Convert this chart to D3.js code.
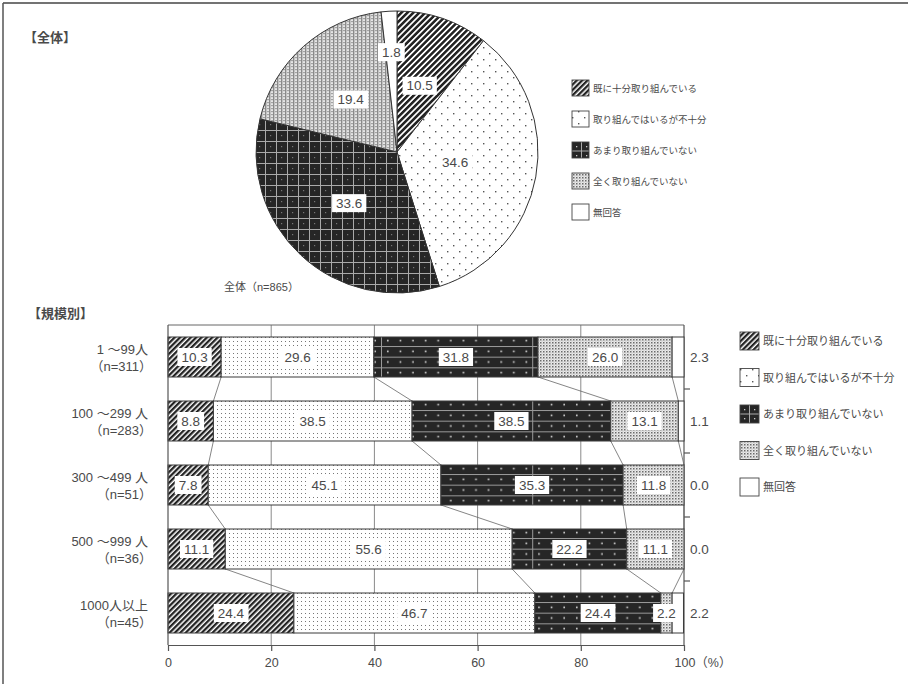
<!DOCTYPE html>
<html><head><meta charset="utf-8">
<script src="https://cdn.jsdelivr.net/npm/d3@7"></script>
<style>
body{margin:0;background:#fff;}
svg{display:block;}
text{font-family:"Liberation Sans","Noto Sans CJK JP",sans-serif;fill:#4a4a4a;}
</style></head>
<body>
<script>
// ---------- data ----------
const categories = ["既に十分取り組んでいる","取り組んではいるが不十分","あまり取り組んでいない","全く取り組んでいない","無回答"];
const overallValues = [10.5, 34.6, 33.6, 19.4, 1.8];
const overallLabel = "全体（n=865）";
const rowLabels = ["1 ～99人","100 ～299 人","300 ～499 人","500 ～999 人","1000人以上"];
const rowN = ["（n=311）","（n=283）","（n=51）","（n=36）","（n=45）"];
const sufficient   = [10.3, 8.8, 7.8, 11.1, 24.4];
const insufficient = [29.6, 38.5, 45.1, 55.6, 46.7];
const little       = [31.8, 38.5, 35.3, 22.2, 24.4];
const none         = [26.0, 13.1, 11.8, 11.1, 2.2];
const noAnswer     = [2.3, 1.1, 0.0, 0.0, 2.2];
const xTicks = [0, 20, 40, 60, 80, 100];

const W = 908, H = 684;
const svg = d3.select("body").append("svg").attr("width", W).attr("height", H);
const defs = svg.append("defs");

// ---------- patterns ----------
function hatch(id, w, sw){
  const p = defs.append("pattern").attr("id", id).attr("patternUnits","userSpaceOnUse")
    .attr("width", w).attr("height", w).attr("patternTransform","rotate(45)");
  p.append("rect").attr("width", w).attr("height", w).attr("fill","#fff");
  p.append("rect").attr("width", sw).attr("height", w).attr("fill","#222");
}
hatch("p0", 3.8, 2.3);
hatch("pp0", 4.2, 2.5);

function dots(id, w, h, pts, r, col){
  const p = defs.append("pattern").attr("id", id).attr("patternUnits","userSpaceOnUse")
    .attr("width", w).attr("height", h);
  p.append("rect").attr("width", w).attr("height", h).attr("fill","#fff");
  pts.forEach(([x,y]) => p.append("rect").attr("x",x).attr("y",y).attr("width",r).attr("height",r).attr("fill",col));
}
dots("p1", 4, 4, [[1,1]], 1, "#777");
dots("pp1", 12, 12, [[2,3],[8,9]], 1.4, "#555");

// dark pattern for bars
(function(){
  const ph = 64/6, pw = 151.2, step = 12.6;
  const p = defs.append("pattern").attr("id","p2").attr("patternUnits","userSpaceOnUse")
    .attr("width", pw).attr("height", ph).attr("x", 381).attr("y", 346);
  p.append("rect").attr("width", pw).attr("height", ph).attr("fill","#262626");
  p.append("rect").attr("x",0).attr("y",0).attr("width",pw).attr("height",1).attr("fill","#9a9a9a");
  p.append("rect").attr("x",0).attr("y",0).attr("width",1).attr("height",ph).attr("fill","#9a9a9a");
  for(let i=0;i<12;i++){
    p.append("rect").attr("x", i*step+6).attr("y", ph/2-0.8).attr("width",1.6).attr("height",1.6).attr("fill","#ddd");
  }
})();
// dark pattern for pie: grid
(function(){
  const c = 11;
  const p = defs.append("pattern").attr("id","pp2").attr("patternUnits","userSpaceOnUse")
    .attr("width", c).attr("height", c);
  p.append("rect").attr("width", c).attr("height", c).attr("fill","#262626");
  p.append("rect").attr("width", c).attr("height", 1).attr("fill","#aaa");
  p.append("rect").attr("width", 1).attr("height", c).attr("fill","#aaa");
  p.append("rect").attr("x",5).attr("y",5).attr("width",1.2).attr("height",1.2).attr("fill","#777");
})();
// legend swatch for dark: cross
(function(){
  const p = defs.append("pattern").attr("id","ps2").attr("patternUnits","objectBoundingBox")
    .attr("width",1).attr("height",1);
  p.append("rect").attr("width",19).attr("height",18).attr("fill","#262626");
  p.append("rect").attr("x",0).attr("y",8.5).attr("width",19).attr("height",1).attr("fill","#aaa");
  p.append("rect").attr("x",9).attr("y",0).attr("width",1).attr("height",18).attr("fill","#aaa");
  [[4,4],[14,4],[4,13],[14,13]].forEach(([a,b])=>p.append("rect").attr("x",a).attr("y",b).attr("width",1.3).attr("height",1.3).attr("fill","#ccc"));
})();
// light grid pattern
(function(){
  const p = defs.append("pattern").attr("id","p3").attr("patternUnits","userSpaceOnUse").attr("width",3).attr("height",3);
  p.append("rect").attr("width",3).attr("height",3).attr("fill","#eaeaea");
  p.append("rect").attr("width",1.5).attr("height",1.5).attr("fill","#6a6a6a");
  p.append("rect").attr("x",1.5).attr("y",1.5).attr("width",1).attr("height",1).attr("fill","#aaa");
  const q = defs.append("pattern").attr("id","pp3").attr("patternUnits","userSpaceOnUse").attr("width",4).attr("height",3);
  q.append("rect").attr("width",4).attr("height",3).attr("fill","#e6e6e6");
  q.append("rect").attr("width",1.4).attr("height",3).attr("fill","#8a8a8a");
  q.append("rect").attr("x",2.4).attr("y",1).attr("width",1.2).attr("height",1.2).attr("fill","#777");
})();
const barFills = ["url(#p0)","url(#p1)","url(#p2)","url(#p3)","#fff"];
const pieFills = ["url(#pp0)","url(#pp1)","url(#pp2)","url(#pp3)","#fff"];
const swatchFills = ["url(#p0)","url(#pp1)","url(#ps2)","url(#p3)","#fff"];

// ---------- frame ----------
svg.append("line").attr("x1",3).attr("x2",W).attr("y1",3).attr("y2",3).attr("stroke","#444").attr("stroke-width",1.5);
svg.append("line").attr("x1",3).attr("x2",3).attr("y1",3).attr("y2",H).attr("stroke","#555").attr("stroke-width",1.5);

// ---------- titles ----------
svg.append("text").attr("x",24).attr("y",42).attr("font-size",13).attr("font-weight","bold").attr("fill","#333").text("【全体】");
svg.append("text").attr("x",28).attr("y",318).attr("font-size",13).attr("font-weight","bold").attr("fill","#333").text("【規模別】");

function boxLabel(g, x, y, txt, fs){
  const gg = g.append("g");
  const t = gg.append("text").attr("x",x).attr("y",y).attr("text-anchor","middle")
    .attr("dominant-baseline","central").attr("font-size",fs).attr("fill","#555").text(txt);
  const b = t.node().getBBox();
  gg.insert("rect","text").attr("x",b.x-4).attr("y",b.y-1.5).attr("width",b.width+8).attr("height",b.height+3).attr("fill","#fff");
}

// ---------- pie ----------
const cx = 397, cy = 152, R = 141;
const pie = d3.pie().sort(null).value(d=>d)(overallValues);
const arc = d3.arc().innerRadius(0).outerRadius(R);
const pg = svg.append("g").attr("transform",`translate(${cx},${cy})`);
pg.selectAll("path").data(pie).join("path").attr("d",arc)
  .attr("fill",(d,i)=>pieFills[i]).attr("stroke","#333").attr("stroke-width",1);
pie.forEach((d,i)=>{
  const lr = d.data < 5 ? 100 : (i===1 ? 59 : 70);
  const la = d3.arc().innerRadius(lr).outerRadius(lr);
  const [x,y] = la.centroid(d);
  boxLabel(pg, x, y, d3.format(".1f")(d.data), 13.5);
});
svg.append("text").attr("x",224).attr("y",291).attr("font-size",11).attr("fill","#555").text(overallLabel);

// pie legend
const pl = svg.append("g");
categories.forEach((c,i)=>{
  const y = 88 + 31*i;
  pl.append("rect").attr("x",572).attr("y",y-8).attr("width",17).attr("height",16)
    .attr("fill",swatchFills[i]).attr("stroke","#444").attr("stroke-width",0.9);
  pl.append("text").attr("x",593).attr("y",y).attr("dominant-baseline","central").attr("font-size",9.5).attr("fill","#555").text(c);
});

// ---------- bar chart ----------
const x0 = 168, x1 = 684, yTop = 325, yBot = 645;
const x = d3.scaleLinear().domain([0,100]).range([x0,x1]);
const y = d3.scaleBand().domain(rowLabels).range([yTop,yBot]).paddingInner(0.375).paddingOuter(0.1875);
const series = [sufficient, insufficient, little, none, noAnswer];
const rows = rowLabels.map((r,i)=>{ const o={row:r}; categories.forEach((c,k)=>o[c]=series[k][i]); return o; });
const stacked = d3.stack().keys(categories)(rows);

const bg = svg.append("g");
bg.selectAll("line.grid").data(xTicks.slice(1,-1)).join("line")
  .attr("x1",d=>x(d)).attr("x2",d=>x(d)).attr("y1",yTop).attr("y2",yBot).attr("stroke","#8a8a8a").attr("stroke-width",1);
bg.append("line").attr("x1",x0).attr("x2",x1).attr("y1",yTop).attr("y2",yTop).attr("stroke","#666").attr("stroke-width",1);
bg.append("line").attr("x1",x1).attr("x2",x1).attr("y1",yTop).attr("y2",yBot).attr("stroke","#555").attr("stroke-width",1.2);
rowLabels.slice(0,-1).forEach((r,i)=>{
  const yy = (y(r)+y.bandwidth()+y(rowLabels[i+1]))/2;
  bg.append("line").attr("x1",x1).attr("x2",x1+6).attr("y1",yy).attr("y2",yy).attr("stroke","#555").attr("stroke-width",1.2);
});

for(let k=0;k<4;k++){
  for(let i=0;i<rowLabels.length-1;i++){
    bg.append("line")
      .attr("x1",x(stacked[k][i][1])).attr("y1",y(rowLabels[i])+y.bandwidth())
      .attr("x2",x(stacked[k][i+1][1])).attr("y2",y(rowLabels[i+1]))
      .attr("stroke","#666").attr("stroke-width",0.8);
  }
}

stacked.forEach((s,k)=>{
  bg.selectAll(null).data(s).join("rect")
    .attr("x",d=>x(d[0])).attr("y",d=>y(d.data.row))
    .attr("width",d=>x(d[1])-x(d[0])).attr("height",y.bandwidth())
    .attr("fill",barFills[k]).attr("stroke","#3a3a3a").attr("stroke-width",1);
});
stacked.forEach((s,k)=>{
  if(k===4) return;
  s.forEach(d=>{
    if(d[1]-d[0] <= 0) return;
    boxLabel(bg, (x(d[0])+x(d[1]))/2, y(d.data.row)+y.bandwidth()/2, d3.format(".1f")(d[1]-d[0]), 13.5);
  });
});
rowLabels.forEach((r,i)=>{
  bg.append("text").attr("x",x1+6).attr("y",y(r)+y.bandwidth()/2).attr("dominant-baseline","central")
    .attr("font-size",13.5).attr("fill","#555").text(d3.format(".1f")(noAnswer[i]));
});

bg.append("line").attr("x1",x0).attr("x2",x0).attr("y1",yTop).attr("y2",yBot).attr("stroke","#555").attr("stroke-width",1.2);
const ax = bg.append("g").attr("transform",`translate(0,${yBot})`)
  .call(d3.axisBottom(x).tickValues(xTicks).tickSize(6).tickPadding(7).tickSizeOuter(0)
    .tickFormat(d=> d===100 ? "100（%）" : d));
ax.select(".domain").attr("stroke","#555").attr("stroke-width",1.2);
ax.selectAll(".tick line").attr("stroke","#555").attr("stroke-width",1.2);
ax.selectAll(".tick text").attr("font-size",12.5).attr("fill","#555")
  .attr("font-family","\"Liberation Sans\",\"Noto Sans CJK JP\",sans-serif");
ax.selectAll(".tick text").filter(d=>d===100).attr("text-anchor","start").attr("x",-10);

rowLabels.forEach((r,i)=>{
  const cyy = y(r)+y.bandwidth()/2;
  bg.append("text").attr("x",148).attr("y",cyy-8).attr("text-anchor","end").attr("dominant-baseline","central")
    .attr("font-size",13).attr("fill","#555").text(r);
  bg.append("text").attr("x",152).attr("y",cyy+9).attr("text-anchor","end").attr("dominant-baseline","central")
    .attr("font-size",13).attr("fill","#555").text(rowN[i]);
});

const bl = svg.append("g");
categories.forEach((c,i)=>{
  const yy = 341 + 36.5*i;
  bl.append("rect").attr("x",740).attr("y",yy-9).attr("width",19).attr("height",18)
    .attr("fill",swatchFills[i]).attr("stroke","#444").attr("stroke-width",0.9);
  bl.append("text").attr("x",763).attr("y",yy).attr("dominant-baseline","central").attr("font-size",11).attr("fill","#555").text(c);
});
</script>
</body></html>
